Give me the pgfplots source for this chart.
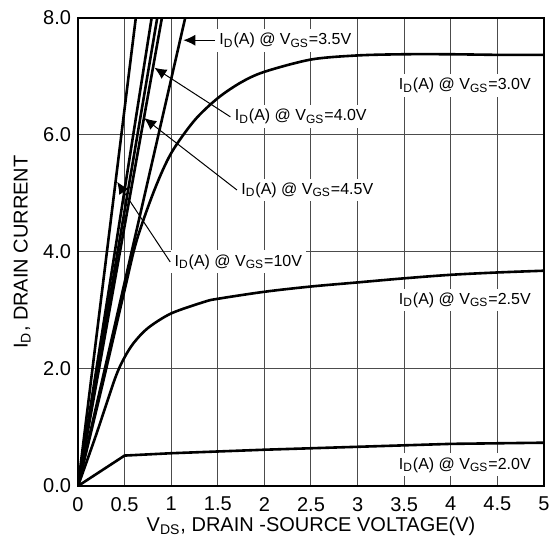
\documentclass[border=0pt]{standalone}
\usepackage{pgfplots}
\pgfplotsset{compat=1.18}
\usepackage{fontspec}
\setmainfont{Liberation Sans}
\usetikzlibrary{arrows.meta,calc}
\newcommand{\lab}[1]{I\textsubscript{D}(A) @ V\textsubscript{GS}=#1V}
\begin{document}
\begin{tikzpicture}
\begin{axis}[
  scale only axis, width=233pt, height=234pt,
  xmin=0, xmax=5, ymin=0, ymax=8,
  xtick={0,0.5,1,1.5,2,2.5,3,3.5,4,4.5,5},
  xticklabels={0,0.5,1,1.5,2,2.5,3,3.5,4,4.5,5},
  ytick={0,2,4,6,8},
  yticklabels={0.0,2.0,4.0,6.0,8.0},
  grid=major,
  major grid style={black!70, line width=0.5pt},
  major tick length=0pt,
  axis line style={black, line width=0.6pt},
  /pgf/number format/assume math mode=true,
  tick label style={font=\fontsize{10}{12}\selectfont},
  xticklabel style={yshift=-2pt},
  label style={font=\fontsize{10}{12}\selectfont},
  xlabel={V\textsubscript{DS}, DRAIN -SOURCE VOLTAGE(V)},
  ylabel={I\textsubscript{D}, DRAIN CURRENT},
  xlabel style={at={(axis description cs:0.5,-0.087)}, anchor=center},
  ylabel style={at={(axis description cs:-0.12,0.5)}, anchor=center},
  cycle list={{black,solid,mark=none}},
  every axis plot/.append style={black, solid, mark=none, line width=1.3pt},
  clip=true,
]
% straight lines (VGS=10V, unlabeled, 4.5V, 4.0V, 3.5V)
\addplot coordinates {(0,0) (0.62,8)};
\addplot coordinates {(0,0) (0.79,8)};
\addplot coordinates {(0,0) (0.85,8)};
\addplot coordinates {(0,0) (0.90,8)};
\addplot coordinates {(0,0) (1.15,8)};
% VGS=3.0V
\addplot[smooth, tension=0.5] coordinates {(0,0) (0.25,1.65) (0.5,3.35) (0.63,4.2) (0.82,5.06) (1.0,5.69) (1.25,6.25) (1.5,6.63) (1.75,6.9) (2.0,7.08) (2.5,7.29) (3,7.36) (3.5,7.38) (4,7.38) (4.5,7.37) (5,7.37)};
% VGS=2.5V
\addplot[smooth, tension=0.5] coordinates {(0,0) (0.2,0.9) (0.4,1.85) (0.5,2.2) (0.6,2.45) (0.75,2.7) (1.0,2.95) (1.36,3.15) (1.5,3.2) (2,3.32) (2.5,3.41) (3,3.48) (3.5,3.55) (4,3.61) (4.5,3.65) (5,3.68)};
% VGS=2.0V
\addplot coordinates {(0,0) (0.5,0.52) (1,0.56) (1.5,0.59) (2,0.62) (3,0.67) (4,0.72) (5,0.74)};

\tikzset{lbl/.style={fill=white, inner sep=2pt, font=\fontsize{8}{9.6}\selectfont}}
\node[lbl, anchor=center] at (axis cs:4.15,6.85) {\lab{3.0}};
\node[lbl, anchor=center] at (axis cs:4.15,3.18) {\lab{2.5}};
\node[lbl, anchor=center] at (axis cs:4.15,0.36) {\lab{2.0}};
\node[lbl, anchor=west] (a35) at (axis cs:1.47,7.62) {\lab{3.5}};
\node[lbl, anchor=center] (a40) at (axis cs:2.39,6.31) {\lab{4.0}};
\node[lbl, anchor=center] (a45) at (axis cs:2.46,5.06) {\lab{4.5}};
\node[lbl, anchor=center] (a10) at (axis cs:1.72,3.83) {\lab{10}};
\tikzset{arr/.style={black, line width=0.5pt, -{Latex[length=6pt,width=5.5pt]}}}
\draw[arr] (a35.west) -- (axis cs:1.13,7.62);
\draw[arr] (a40.west) -- (axis cs:0.82,7.15);
\draw[arr] (a45.west) -- (axis cs:0.71,6.29);
\draw[arr] (a10.west) -- (axis cs:0.42,5.2);
\end{axis}
\pgfresetboundingbox
\path[use as bounding box] ($(current axis.south west)+(-39pt,-28.5pt)$) rectangle ($(current axis.north east)+(3pt,9pt)$);
\end{tikzpicture}
\end{document}
